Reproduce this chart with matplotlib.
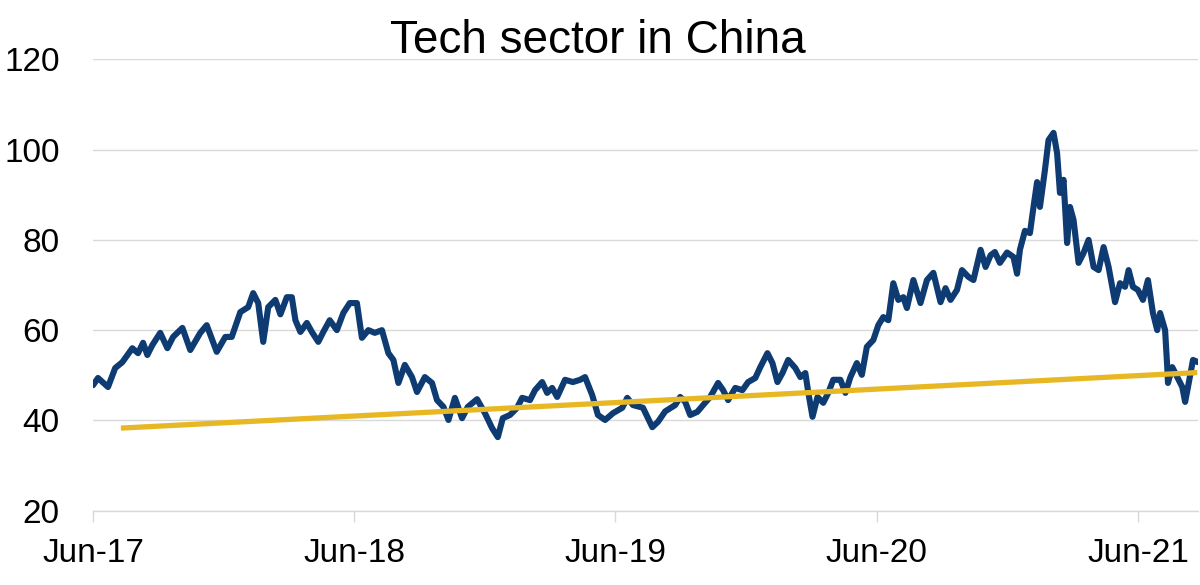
import matplotlib
matplotlib.use("Agg")
import matplotlib.pyplot as plt
import matplotlib.dates as mdates
import pandas as pd

# index values
dates = [
    "2017-06-01", "2017-06-08", "2017-06-22", "2017-07-02", "2017-07-12", "2017-07-26",
    "2017-08-03", "2017-08-10", "2017-08-16", "2017-08-23", "2017-09-03", "2017-09-13",
    "2017-09-21", "2017-10-04", "2017-10-15", "2017-10-29", "2017-11-07", "2017-11-21",
    "2017-12-03", "2017-12-12", "2017-12-24", "2018-01-04", "2018-01-11", "2018-01-18",
    "2018-01-25", "2018-02-01", "2018-02-11", "2018-02-18", "2018-02-27", "2018-03-06",
    "2018-03-11", "2018-03-18", "2018-03-27", "2018-04-03", "2018-04-12", "2018-04-19",
    "2018-04-28", "2018-05-08", "2018-05-17", "2018-05-26", "2018-06-05", "2018-06-12",
    "2018-06-21", "2018-06-30", "2018-07-10", "2018-07-19", "2018-07-26", "2018-08-02",
    "2018-08-11", "2018-08-21", "2018-08-28", "2018-09-08", "2018-09-18", "2018-09-25",
    "2018-10-04", "2018-10-11", "2018-10-20", "2018-10-30", "2018-11-07", "2018-11-20",
    "2018-12-01", "2018-12-11", "2018-12-19", "2018-12-26", "2019-01-05", "2019-01-15",
    "2019-01-22", "2019-02-02", "2019-02-09", "2019-02-19", "2019-02-26", "2019-03-05",
    "2019-03-12", "2019-03-23", "2019-04-03", "2019-04-13", "2019-04-20", "2019-04-30",
    "2019-05-08", "2019-05-18", "2019-05-29", "2019-06-11", "2019-06-18", "2019-06-26",
    "2019-07-10", "2019-07-23", "2019-07-31", "2019-08-10", "2019-08-24", "2019-08-31",
    "2019-09-07", "2019-09-14", "2019-09-24", "2019-10-02", "2019-10-12", "2019-10-23",
    "2019-10-30", "2019-11-06", "2019-11-16", "2019-11-26", "2019-12-04", "2019-12-14",
    "2019-12-21", "2019-12-31", "2020-01-07", "2020-01-14", "2020-01-21", "2020-01-29",
    "2020-02-08", "2020-02-15", "2020-02-22", "2020-02-26", "2020-03-03", "2020-03-10",
    "2020-03-18", "2020-03-25", "2020-04-01", "2020-04-11", "2020-04-18", "2020-04-25",
    "2020-05-04", "2020-05-11", "2020-05-18", "2020-05-27", "2020-06-03", "2020-06-10",
    "2020-06-17", "2020-06-24", "2020-07-01", "2020-07-08", "2020-07-13", "2020-07-22",
    "2020-08-01", "2020-08-10", "2020-08-19", "2020-08-29", "2020-09-05", "2020-09-12",
    "2020-09-21", "2020-09-28", "2020-10-07", "2020-10-14", "2020-10-24", "2020-10-31",
    "2020-11-07", "2020-11-13", "2020-11-20", "2020-11-30", "2020-12-09", "2020-12-14",
    "2020-12-18", "2020-12-25", "2021-01-01", "2021-01-06", "2021-01-11", "2021-01-15",
    "2021-01-22", "2021-01-27", "2021-02-03", "2021-02-08", "2021-02-12", "2021-02-17",
    "2021-02-22", "2021-02-26", "2021-03-03", "2021-03-10", "2021-03-17", "2021-03-24",
    "2021-03-31", "2021-04-07", "2021-04-14", "2021-04-21", "2021-04-30", "2021-05-07",
    "2021-05-14", "2021-05-19", "2021-05-25", "2021-06-01", "2021-06-08", "2021-06-15",
    "2021-06-22", "2021-06-28", "2021-07-02", "2021-07-09", "2021-07-12", "2021-07-13",
    "2021-07-19", "2021-07-26", "2021-08-02", "2021-08-06", "2021-08-10", "2021-08-17",
    "2021-08-24",
]
tech = [
    47.8, 49.4, 47.4, 51.6, 52.9, 56.0,
    54.9, 57.2, 54.5, 56.7, 59.4, 56.0,
    58.5, 60.5, 55.6, 59.4, 61.1, 55.2,
    58.5, 58.5, 64.0, 65.1, 68.2, 66.0,
    57.4, 65.1, 66.7, 63.5, 67.3, 67.3,
    62.2, 59.6, 61.6, 59.6, 57.4, 59.6,
    62.2, 60.0, 63.8, 66.0, 66.0, 58.3,
    60.0, 59.4, 60.0, 54.9, 53.4, 48.3,
    52.3, 49.6, 46.3, 49.6, 48.3, 44.5,
    43.0, 40.1, 45.0, 40.5, 43.0, 44.7,
    41.6, 38.3, 36.3, 40.5, 41.2, 42.8,
    45.0, 44.5, 46.7, 48.5, 46.1, 47.2,
    45.2, 49.0, 48.5, 49.0, 49.6, 45.6,
    41.2, 40.1, 41.6, 42.8, 45.0, 43.4,
    42.8, 38.5, 39.7, 42.0, 43.4, 45.2,
    44.1, 41.2, 41.9, 43.4, 45.2, 48.3,
    46.7, 44.5, 47.2, 46.7, 48.5, 49.4,
    51.8, 54.9, 52.7, 48.5, 50.5, 53.4,
    51.6, 49.6, 50.5, 46.3, 40.8, 45.2,
    43.9, 46.1, 49.0, 49.0, 46.1, 49.6,
    52.7, 50.1, 56.3, 57.8, 61.1, 62.9,
    62.2, 70.4, 66.7, 67.3, 64.9, 71.1,
    66.0, 71.1, 72.7, 66.2, 69.3, 66.7,
    68.9, 73.3, 71.8, 71.1, 77.8, 74.0,
    76.6, 77.3, 74.9, 77.2, 76.2, 72.5,
    77.8, 82.0, 81.5, 87.3, 92.8, 87.3,
    95.5, 102.1, 103.7, 99.2, 90.4, 93.3,
    79.3, 87.3, 84.4, 74.9, 77.1, 80.0,
    74.0, 73.3, 78.4, 74.0, 66.2, 70.4,
    69.6, 73.3, 69.6, 68.9, 66.7, 71.1,
    63.8, 60.0, 63.8, 60.0, 51.8, 48.3,
    51.8, 49.6, 47.4, 44.1, 47.4, 53.4,
    52.9,
]

# linear trend (yellow)
trend_dates = ["2017-07-10", "2021-08-23"]
trend_vals = [38.3, 50.6]

title = "Tech sector in China"
yticks = [20, 40, 60, 80, 100, 120]
xtick_dates = ["2017-06-01", "2018-06-01", "2019-06-01", "2020-06-01", "2021-06-01"]

BLUE = "#0d3b72"
YELLOW = "#e8b824"
GRID = "#d9d9d9"

plt.rcParams["font.family"] = ["Liberation Sans", "DejaVu Sans"]

fig = plt.figure(figsize=(12, 5.85), dpi=100)
ax = fig.add_axes([93 / 1200, 1 - 510.7 / 585, (1198 - 93) / 1200, (510.7 - 59.3) / 585])

ax.plot(pd.to_datetime(dates), tech, color=BLUE, lw=4.4, zorder=3,
        solid_joinstyle="round", solid_capstyle="round")
ax.plot(pd.to_datetime(trend_dates), trend_vals, color=YELLOW, lw=3.8,
        zorder=4, solid_capstyle="butt")

ax.set_ylim(20, 120)
ax.set_yticks(yticks)
ax.set_xlim(pd.Timestamp(dates[0]), pd.Timestamp(dates[-1]))
ax.set_xticks(pd.to_datetime(xtick_dates))
ax.xaxis.set_major_formatter(mdates.DateFormatter("%b-%y"))

ax.grid(axis="y", color=GRID, lw=1.0, zorder=0)
for s in ["top", "right", "left"]:
    ax.spines[s].set_visible(False)
ax.spines["bottom"].set_color(GRID)
ax.spines["bottom"].set_linewidth(1.0)

ax.tick_params(axis="y", length=0, pad=24, labelsize=24)
ax.tick_params(axis="x", length=8, width=1.0, color=GRID, pad=12, labelsize=24)

fig.text(0.498, 1 - 41 / 585, title, ha="center", va="center", fontsize=33)

fig.savefig("out.png", dpi=100, facecolor="white")
